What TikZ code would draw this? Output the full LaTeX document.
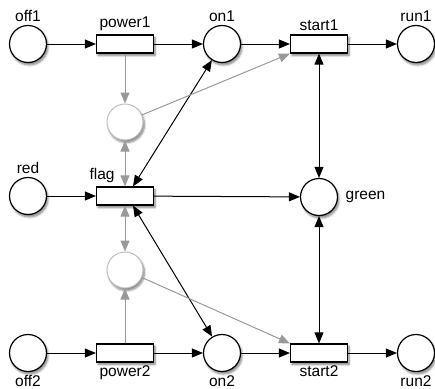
\documentclass[tikz,border=0pt]{standalone}
\usepackage{fontspec}
\setmainfont{Liberation Sans}
\usetikzlibrary{calc, arrows.meta, shadows.blur}

\begin{document}
\begin{tikzpicture}[x=1pt,y=-1pt,
	every node/.style={font=\fontsize{15.5}{18}\selectfont},
	shade/.style={blur shadow={shadow xshift=1.5pt,shadow yshift=-2.5pt,shadow blur steps=6,shadow opacity=50}},
	place/.style={circle,draw,line width=1.2pt,fill=white,minimum size=37pt,inner sep=0pt,shade},
	ghost/.style={circle,draw=black!25,line width=1pt,fill=white,minimum size=36pt,inner sep=0pt,shade},
	trans/.style={rectangle,draw,line width=1.2pt,fill=white,minimum width=57pt,minimum height=18pt,inner sep=0pt,shade},
	arc/.style={line width=1pt,-{Triangle[length=11pt,width=9pt]}},
	darc/.style={line width=1pt,{Triangle[length=11pt,width=9pt]}-{Triangle[length=11pt,width=9pt]}},
	garc/.style={arc,draw=black!40,color=black!40},
	gdarc/.style={darc,draw=black!40,color=black!40}]
	\useasboundingbox (0,0) rectangle (435,388);
	\node[place,label=above:off1] (off1) at (28,44) {};
	\node[trans,label=above:power1] (power1) at (125,44) {};
	\node[place,label=above:on1] (on1) at (222,44) {};
	\node[trans,label=above:start1] (start1) at (319,44) {};
	\node[place,label=above:run1] (run1) at (416,44) {};
	\node[ghost] (g1) at (125,122) {};
	\node[place,label=above:red] (red) at (28,196) {};
	\node[trans,label={[xshift=-23pt]above:flag}] (flag) at (125,196) {};
	\node[place,label={[label distance=4pt]right:green}] (green) at (319,197) {};
	\node[ghost] (g2) at (125,270) {};
	\node[place,label=below:off2] (off2) at (28,353) {};
	\node[trans,label=below:power2] (power2) at (125,353) {};
	\node[place,label=below:on2] (on2) at (222,353) {};
	\node[trans,label=below:start2] (start2) at (319,353) {};
	\node[place,label=below:run2] (run2) at (416,353) {};
	\draw[arc] (off1) -- (power1);
	\draw[arc] (power1) -- (on1);
	\draw[arc] (on1) -- (start1);
	\draw[arc] (start1) -- (run1);
	\draw[arc] (red) -- (flag);
	\draw[arc] (flag) -- (green);
	\draw[arc] (off2) -- (power2);
	\draw[arc] (power2) -- (on2);
	\draw[arc] (on2) -- (start2);
	\draw[arc] (start2) -- (run2);
	\draw[darc] (start1) -- (green);
	\draw[darc] (green) -- (start2);
	\draw[darc] ($(flag.north)+(8,0)$) -- (on1);
	\draw[darc] ($(flag.south)+(8,0)$) -- (on2);
	\draw[garc] (power1) -- (g1);
	\draw[garc] (power2) -- (g2);
	\draw[gdarc] (g1) -- (flag);
	\draw[gdarc] (flag) -- (g2);
	\draw[garc] (g1) -- (start1.south west);
	\draw[garc] (g2) -- (start2.north west);
\end{tikzpicture}
\end{document}
